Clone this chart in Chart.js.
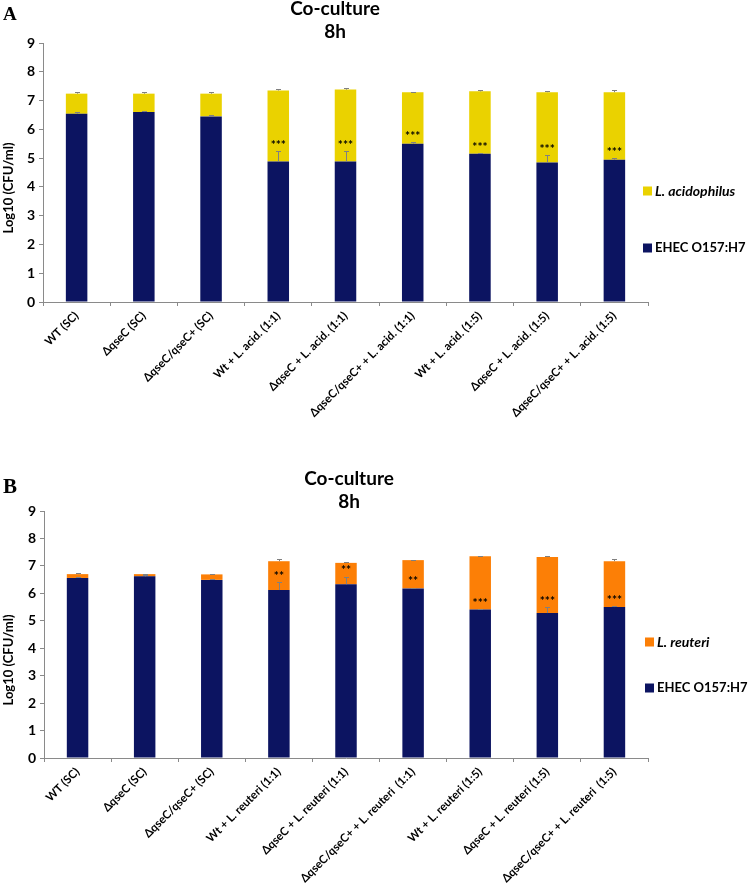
<!DOCTYPE html>
<html>
<head>
<meta charset="utf-8">
<title>Co-culture 8h</title>
<script src="https://cdn.jsdelivr.net/npm/chart.js@4.4.1/dist/chart.umd.min.js"></script>
<style>
  html, body { margin: 0; padding: 0; background: #fff; }
  #wrap { position: relative; width: 749px; height: 890px; }
  .panel { position: absolute; left: 0; }
  #panelA { top: 0; }
  #panelB { top: 440px; }
</style>
</head>
<body>
<div id="wrap">
  <div class="panel" id="panelA"><canvas id="chartA" width="749" height="440"></canvas></div>
  <div class="panel" id="panelB"><canvas id="chartB" width="749" height="450"></canvas></div>
</div>
<script>
// Data (Log10 CFU/ml)
const labelsA = [
  "WT (SC)", "\u0394qseC (SC)", "\u0394qseC/qseC+ (SC)",
  "Wt + L. acid. (1:1)", "\u0394qseC + L. acid. (1:1)", "\u0394qseC/qseC+ + L. acid. (1:1)",
  "Wt + L. acid. (1:5)", "\u0394qseC + L. acid. (1:5)", "\u0394qseC/qseC+ + L. acid. (1:5)"
];
const ehecA = [6.54, 6.60, 6.45, 4.88, 4.88, 5.50, 5.15, 4.85, 4.94];
const totalA = [7.24, 7.24, 7.24, 7.35, 7.38, 7.29, 7.32, 7.29, 7.29];
const ehecErrA = [0.06, 0.02, 0.05, 0.35, 0.35, 0.05, 0.03, 0.27, 0.06];
const totalErrA = [0.04, 0.05, 0.05, 0.06, 0.05, 0.02, 0.03, 0.05, 0.08];
const sigA = ["", "", "", "***", "***", "***", "***", "***", "***"];

const labelsB = [
  "WT (SC)", "\u0394qseC (SC)", "\u0394qseC/qseC+ (SC)",
  "Wt + L. reuteri (1:1)", "\u0394qseC + L. reuteri (1:1)", "\u0394qseC/qseC+ + L. reuteri  (1:1)",
  "Wt + L. reuteri (1:5)", "\u0394qseC + L. reuteri (1:5)", "\u0394qseC/qseC+ + L. reuteri  (1:5)"
];
const ehecB = [6.56, 6.62, 6.49, 6.12, 6.33, 6.18, 5.41, 5.28, 5.50];
const totalB = [6.70, 6.70, 6.69, 7.17, 7.11, 7.21, 7.35, 7.32, 7.17];
const ehecErrB = [0.05, 0.03, 0.04, 0.28, 0.28, 0.03, 0.03, 0.22, 0.05];
const totalErrB = [0.03, 0.02, 0.03, 0.07, 0.04, 0.02, 0.02, 0.04, 0.08];
const sigB = ["", "", "", "**", "**", "**", "***", "***", "***"];

const yTicks = [0, 1, 2, 3, 4, 5, 6, 7, 8, 9];

const colors = {
  ehec: "#0c1461",
  acid: "#ead200",
  reuteri: "#fc7f06",
  axis: "#8a8a8a",
  errBar: "#808080"
};

Chart.defaults.font.family = "Lato, 'Open Sans', sans-serif";
Chart.defaults.color = "#000";

// Error bars, significance stars, titles and legend
const decorPlugin = {
  id: "decor",
  afterDatasetsDraw(chart, args, opts) {
    const ctx = chart.ctx;
    const y = chart.scales.y;
    const meta = chart.getDatasetMeta(0);
    ctx.save();
    ctx.strokeStyle = colors.errBar;
    ctx.lineWidth = 1;
    meta.data.forEach((bar, i) => {
      const x = Math.round(bar.x) + 0.5;
      [[opts.ehec[i], opts.ehecErr[i]], [opts.total[i], opts.totalErr[i]]].forEach(([v, e]) => {
        const y0 = y.getPixelForValue(v);
        const y1 = Math.round(y.getPixelForValue(v + e)) + 0.5;
        ctx.beginPath();
        ctx.moveTo(x, y0);
        ctx.lineTo(x, y1);
        ctx.moveTo(x - 2.5, y1);
        ctx.lineTo(x + 2.5, y1);
        ctx.stroke();
      });
      if (opts.sig[i]) {
        ctx.fillStyle = "#000";
        ctx.font = "bold 12px Lato";
        ctx.textAlign = "center";
        ctx.textBaseline = "middle";
        ctx.fillText(opts.sig[i], bar.x, y.getPixelForValue(opts.ehec[i] + opts.ehecErr[i]) - 6);
      }
    });
    ctx.restore();
  },
  afterDraw(chart, args, opts) {
    const ctx = chart.ctx;
    ctx.save();
    ctx.fillStyle = "#000";

    // panel letter
    ctx.font = `bold ${opts.letterSize}px 'Liberation Serif', serif`;
    ctx.textAlign = "left";
    ctx.textBaseline = "alphabetic";
    ctx.fillText(opts.letter, 3, opts.letterY);

    // title
    ctx.font = "bold 19px Lato";
    ctx.textAlign = "center";
    ctx.fillText("Co-culture", opts.titleX, opts.titleY);
    ctx.fillText("8h", opts.titleX, opts.titleY + 23);

    // y axis title
    ctx.font = "bold 13px Lato";
    ctx.translate(9, opts.yTitleY);
    ctx.rotate(-Math.PI / 2);
    ctx.textBaseline = "middle";
    ctx.fillText("Log10 (CFU/ml)", 0, 0);
    ctx.setTransform(1, 0, 0, 1, 0, 0);

    // legend
    ctx.textAlign = "left";
    ctx.textBaseline = "middle";
    const items = [
      { color: chart.data.datasets[1].backgroundColor, text: chart.data.datasets[1].label, italic: true, y: opts.legendY[0] },
      { color: chart.data.datasets[0].backgroundColor, text: chart.data.datasets[0].label, italic: false, y: opts.legendY[1] }
    ];
    items.forEach(item => {
      ctx.fillStyle = item.color;
      ctx.fillRect(opts.legendX, item.y - 4.5, 9, 9);
      ctx.fillStyle = "#000";
      ctx.font = `${item.italic ? "italic bold 14px" : "bold 13px"} Lato`;
      ctx.fillText(item.text, opts.legendX + 12, item.y);
    });
    ctx.restore();
  }
};

function buildChart(canvasId, cfg) {
  const segment = cfg.total.map((t, i) => +(t - cfg.ehec[i]).toFixed(2));
  return new Chart(document.getElementById(canvasId), {
    type: "bar",
    data: {
      labels: cfg.labels,
      datasets: [
        { label: "EHEC O157:H7", data: cfg.ehec, backgroundColor: colors.ehec },
        { label: cfg.lactoName, data: segment, backgroundColor: cfg.lactoColor }
      ]
    },
    options: {
      responsive: false,
      devicePixelRatio: 1,
      animation: false,
      barPercentage: 0.32,
      categoryPercentage: 1.0,
      layout: { padding: { left: 0, right: 101, top: cfg.padTop, bottom: 0 } },
      plugins: {
        legend: { display: false },
        tooltip: { enabled: false },
        decor: {
          ehec: cfg.ehec, total: cfg.total, ehecErr: cfg.ehecErr, totalErr: cfg.totalErr, sig: cfg.sig,
          letter: cfg.letter, letterSize: cfg.letterSize, letterY: cfg.letterY,
          titleX: cfg.titleX, titleY: cfg.titleY, yTitleY: cfg.yTitleY,
          legendX: cfg.legendX, legendY: cfg.legendY
        }
      },
      scales: {
        x: {
          stacked: true,
          afterFit: s => { s.height = cfg.xHeight; },
          grid: { offset: true, drawOnChartArea: false, tickLength: 4, color: colors.axis },
          border: { color: colors.axis },
          ticks: {
            autoSkip: false, maxRotation: 45, minRotation: 45, padding: 3,
            font: { size: 11.5, weight: "bold" }, color: "#000"
          }
        },
        y: {
          stacked: true,
          min: 0,
          max: 9,
          afterFit: s => { s.width = cfg.yWidth; },
          afterBuildTicks: s => { s.ticks = yTicks.map(v => ({ value: v })); },
          grid: { drawOnChartArea: false, tickLength: 4, color: colors.axis },
          border: { color: colors.axis },
          ticks: { padding: 4, font: { size: 14, weight: "bold" }, color: "#000" }
        }
      }
    },
    plugins: [decorPlugin]
  });
}

buildChart("chartA", {
  labels: labelsA, ehec: ehecA, total: totalA, ehecErr: ehecErrA, totalErr: totalErrA, sig: sigA,
  lactoName: "L. acidophilus", lactoColor: colors.acid,
  padTop: 43, xHeight: 138, yWidth: 43,
  letter: "A", letterSize: 19, letterY: 20,
  titleX: 335, titleY: 15, yTitleY: 188,
  legendX: 643, legendY: [191, 248]
});

buildChart("chartB", {
  labels: labelsB, ehec: ehecB, total: totalB, ehecErr: ehecErrB, totalErr: totalErrB, sig: sigB,
  lactoName: "L. reuteri", lactoColor: colors.reuteri,
  padTop: 71, xHeight: 132, yWidth: 44,
  letter: "B", letterSize: 21, letterY: 53,
  titleX: 349, titleY: 45, yTitleY: 220,
  legendX: 645, legendY: [202, 248]
});
</script>
</body>
</html>
